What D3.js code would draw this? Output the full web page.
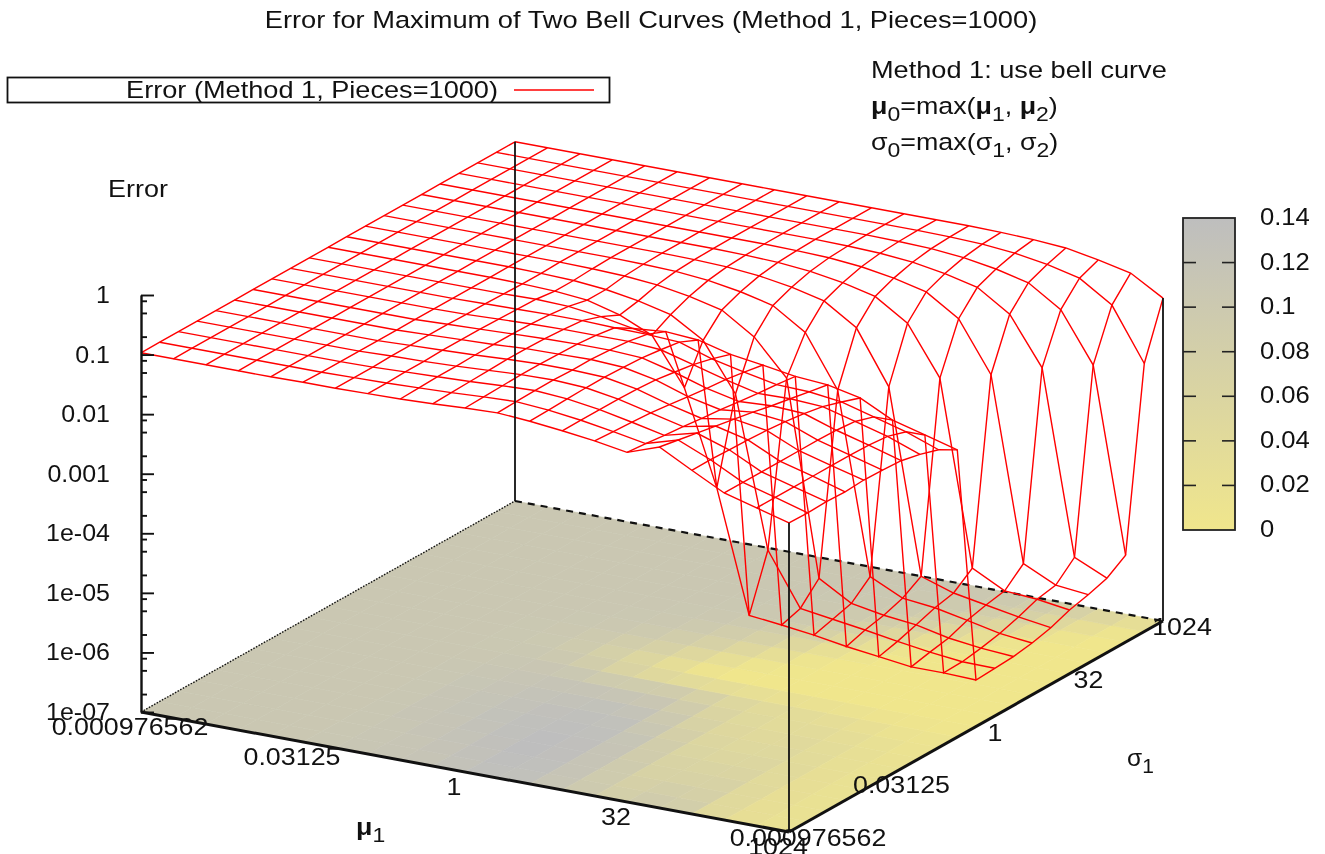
<!DOCTYPE html>
<html lang="en">
<head>
<meta charset="UTF-8">
<title>Error for Maximum of Two Bell Curves</title>
<script src="https://d3js.org/d3.v7.min.js"></script>
<style>
    body { margin: 0; background: #fff; }
    svg { display: block; filter: blur(0.45px); }
    text { font-family: "Liberation Sans", Arial, sans-serif; font-size: 24.5px; fill: #111; }
</style>
</head>
<body>
<svg id="chart" width="1325" height="854"></svg>
<script>
// mu1 and sigma1 both run 2^-10 .. 2^10 in steps of one power of two
const powers = [-10,-9,-8,-7,-6,-5,-4,-3,-2,-1,0,1,2,3,4,5,6,7,8,9,10];

const muTicks = [-10, -5, 0, 5, 10];
const muTickLabels = ["0.000976562", "0.03125", "1", "32", "1024"];
const sigmaTicks = [-10, -5, 0, 5, 10];
const sigmaTickLabels = ["0.000976562", "0.03125", "1", "32", "1024"];

const zTicks = [1, 0.1, 0.01, 0.001, 1e-4, 1e-5, 1e-6, 1e-7];
const zTickLabels = ["1", "0.1", "0.01", "0.001", "1e-04", "1e-05", "1e-06", "1e-07"];
const zMinorFactors = [0.8, 0.5, 0.2];

const cbTicks = [0, 0.02, 0.04, 0.06, 0.08, 0.1, 0.12, 0.14];
const cbTickLabels = ["0", "0.02", "0.04", "0.06", "0.08", "0.1", "0.12", "0.14"];

const logError = [
  [-0.97,-0.97,-0.97,-0.97,-0.97,-0.96,-0.96,-0.95,-0.94,-0.92,-0.89,-0.87,-0.91,-0.97,-1.04,-1.13,-0.94,-1.23,-1.51,-1.66,-1.81],
  [-0.97,-0.97,-0.97,-0.97,-0.97,-0.97,-0.96,-0.95,-0.93,-0.91,-0.88,-0.86,-0.90,-0.97,-1.06,-1.16,-1.00,-1.23,-1.51,-1.66,-1.82],
  [-0.97,-0.97,-0.97,-0.97,-0.97,-0.97,-0.96,-0.94,-0.92,-0.90,-0.87,-0.85,-0.89,-0.97,-1.08,-1.20,-1.06,-1.24,-1.51,-1.66,-1.81],
  [-0.97,-0.97,-0.97,-0.97,-0.97,-0.97,-0.95,-0.94,-0.92,-0.89,-0.86,-0.85,-0.88,-0.97,-1.10,-1.23,-1.12,-1.25,-1.51,-1.66,-1.82],
  [-0.97,-0.97,-0.97,-0.97,-0.97,-0.97,-0.95,-0.93,-0.91,-0.88,-0.86,-0.86,-0.88,-0.98,-1.14,-1.27,-1.18,-1.27,-1.51,-1.66,-1.80],
  [-0.97,-0.97,-0.97,-0.97,-0.97,-0.97,-0.95,-0.93,-0.91,-0.88,-0.87,-0.86,-0.89,-1.00,-1.18,-1.30,-1.24,-1.30,-1.51,-1.66,-1.81],
  [-0.97,-0.97,-0.97,-0.97,-0.97,-0.97,-0.95,-0.93,-0.91,-0.89,-0.88,-0.88,-0.91,-1.05,-1.22,-1.34,-1.31,-1.34,-1.52,-1.67,-1.83],
  [-0.97,-0.97,-0.97,-0.97,-0.97,-0.97,-0.96,-0.94,-0.92,-0.91,-0.91,-0.91,-0.95,-1.10,-1.25,-1.38,-1.37,-1.40,-1.55,-1.70,-1.90],
  [-0.97,-0.97,-0.97,-0.97,-0.97,-0.97,-0.96,-0.95,-0.94,-0.94,-0.96,-0.97,-1.00,-1.18,-1.30,-1.41,-1.43,-1.50,-1.65,-1.80,-2.00],
  [-0.97,-0.97,-0.97,-0.97,-0.97,-0.97,-0.97,-0.96,-0.98,-1.05,-1.15,-1.10,-1.14,-1.28,-1.36,-1.45,-1.49,-1.61,-1.88,-2.03,-2.18],
  [-0.97,-0.97,-0.97,-0.97,-0.97,-0.97,-0.98,-1.00,-1.05,-1.20,-1.44,-2.22,-3.80,-5.84,-5.90,-5.97,-6.06,-6.13,-6.20,-6.20,-6.22],
  [-0.97,-0.97,-0.97,-0.97,-0.97,-0.97,-0.98,-1.00,-1.05,-1.14,-1.27,-1.60,-2.40,-4.92,-5.80,-5.88,-5.96,-6.05,-6.13,-6.19,-6.20],
  [-0.97,-0.97,-0.97,-0.97,-0.97,-0.97,-0.97,-0.98,-1.00,-1.05,-1.14,-1.27,-1.62,-2.21,-5.47,-5.79,-5.89,-5.95,-6.07,-6.14,-6.18],
  [-0.97,-0.97,-0.97,-0.97,-0.97,-0.97,-0.97,-0.97,-0.98,-1.00,-1.05,-1.14,-1.27,-1.62,-2.49,-5.52,-5.78,-5.84,-5.95,-6.07,-6.13],
  [-0.97,-0.97,-0.97,-0.97,-0.97,-0.97,-0.97,-0.97,-0.97,-0.98,-1.00,-1.05,-1.14,-1.27,-1.62,-2.51,-5.59,-5.77,-5.87,-5.97,-6.05],
  [-0.97,-0.97,-0.97,-0.97,-0.97,-0.97,-0.97,-0.97,-0.97,-0.97,-0.98,-1.00,-1.05,-1.14,-1.27,-1.62,-2.44,-5.53,-5.81,-5.85,-5.93],
  [-0.97,-0.97,-0.97,-0.97,-0.97,-0.97,-0.97,-0.97,-0.97,-0.97,-0.97,-0.98,-1.00,-1.05,-1.14,-1.27,-1.62,-2.46,-5.53,-5.79,-5.85],
  [-0.97,-0.97,-0.97,-0.97,-0.97,-0.97,-0.97,-0.97,-0.97,-0.97,-0.97,-0.97,-0.98,-1.00,-1.05,-1.14,-1.27,-1.62,-2.42,-5.50,-5.75],
  [-0.97,-0.97,-0.97,-0.97,-0.97,-0.97,-0.97,-0.97,-0.97,-0.97,-0.97,-0.97,-0.97,-0.98,-1.00,-1.05,-1.14,-1.27,-1.62,-2.45,-5.54],
  [-0.97,-0.97,-0.97,-0.97,-0.97,-0.97,-0.97,-0.97,-0.97,-0.97,-0.97,-0.97,-0.97,-0.97,-0.98,-1.00,-1.05,-1.14,-1.27,-1.62,-2.50],
  [-0.97,-0.97,-0.97,-0.97,-0.97,-0.97,-0.97,-0.97,-0.97,-0.97,-0.97,-0.97,-0.97,-0.97,-0.97,-0.98,-1.00,-1.04,-1.14,-1.26,-1.58]
];

const svg = d3.select("#chart");

// screen positions of the base plane corners and the height of the z axis
const baseLeft = [141, 712];
const muSpan = [648, 120];
const sigmaSpan = [374, -211];
const zHeight = 417;

const muPos = d3.scaleLinear().domain([-10, 10]).range([0, 1]);
const sigmaPos = d3.scaleLinear().domain([-10, 10]).range([0, 1]);
const zPos = d3.scaleLog().domain([1e-7, 1]).range([0, zHeight]);
const colorScale = d3.scaleLinear().domain([0, 0.14]).range(["#f0e68c", "#bebebe"]);

function project(mu, sigma, z) {
    const a = muPos(mu), b = sigmaPos(sigma);
    return [
        baseLeft[0] + a * muSpan[0] + b * sigmaSpan[0],
        baseLeft[1] + a * muSpan[1] + b * sigmaSpan[1] - zPos(z)
    ];
}

const errorAt = (i, j) => Math.pow(10, logError[j][i]);
const zMin = 1e-7;
const corner = (mu, sigma) => project(mu, sigma, zMin);

// the source text is a stretched helvetica, so widen the glyphs to the same width
function stretch(sel, k) {
    sel.each(function() {
        d3.select(this)
            .attr("textLength", this.getComputedTextLength() * k)
            .attr("lengthAdjust", "spacingAndGlyphs");
    });
}

// coloured map on the base plane, one flat quad per grid cell
const cells = [];
d3.range(20).forEach(j => d3.range(20).forEach(i => cells.push({i, j})));
const cellColor = d => colorScale(d3.mean([
    errorAt(d.i, d.j), errorAt(d.i + 1, d.j), errorAt(d.i, d.j + 1), errorAt(d.i + 1, d.j + 1)
]));
svg.append("g").selectAll("path")
    .data(cells)
    .enter().append("path")
    .attr("d", d => "M" + [
        corner(powers[d.i], powers[d.j]),
        corner(powers[d.i + 1], powers[d.j]),
        corner(powers[d.i + 1], powers[d.j + 1]),
        corner(powers[d.i], powers[d.j + 1])
    ].join("L") + "Z")
    .attr("fill", cellColor)
    .attr("stroke", cellColor)
    .attr("stroke-width", 0.6);

// base plane border
const border = (a, b) => svg.append("line")
    .attr("x1", a[0]).attr("y1", a[1]).attr("x2", b[0]).attr("y2", b[1])
    .attr("stroke", "#111");
border(corner(-10, -10), corner(10, -10)).attr("stroke-width", 3);
border(corner(10, -10), corner(10, 10)).attr("stroke-width", 3);
border(corner(-10, 10), corner(10, 10)).attr("stroke-width", 2.2).attr("stroke-dasharray", "7 6");
border(corner(-10, -10), corner(-10, 10)).attr("stroke-width", 1.4).attr("stroke-dasharray", "1.5 1.5");

// wireframe
const line = d3.line();
const mesh = svg.append("g").attr("fill", "none").attr("stroke", "#ff0000").attr("stroke-width", 1.4);
logError.forEach((row, j) => {
    mesh.append("path").attr("d", line(row.map((v, i) => project(powers[i], powers[j], Math.pow(10, v)))));
});
powers.forEach((p, i) => {
    mesh.append("path").attr("d", line(logError.map((row, j) => project(p, powers[j], Math.pow(10, row[i])))));
});

// vertical corner lines
border(corner(-10, 10), project(-10, 10, Math.pow(10, logError[20][0]))).attr("stroke-width", 1.8);
border(corner(10, -10), project(10, -10, Math.pow(10, logError[0][20]))).attr("stroke-width", 1.8);
border(corner(10, 10), project(10, 10, Math.pow(10, logError[20][20]))).attr("stroke-width", 1.8);

// z axis, left edge
const zAxisScale = d3.scaleLog().domain([1e-7, 1]).range([baseLeft[1], baseLeft[1] - zHeight]);
const zMinor = [];
zTicks.slice(0, -1).forEach(t => zMinorFactors.forEach(f => zMinor.push(t * f)));
const zAxis = svg.append("g").attr("transform", `translate(${baseLeft[0]},0)`);
zAxis.append("g").call(d3.axisRight(zAxisScale).tickValues(zMinor).tickSize(6).tickFormat("").tickSizeOuter(0))
    .selectAll("path,line").attr("stroke", "#111").attr("stroke-width", 1.9);
zAxis.append("g").call(d3.axisRight(zAxisScale).tickValues(zTicks).tickSize(13).tickFormat("").tickSizeOuter(0))
    .selectAll("path,line").attr("stroke", "#111").attr("stroke-width", 1.9);
svg.append("g").selectAll("text")
    .data(zTicks)
    .enter().append("text")
    .attr("x", 110)
    .attr("y", d => zAxisScale(d) + 8)
    .attr("text-anchor", "end")
    .text((d, i) => zTickLabels[i])
    .call(stretch, 1.02);

// mu1 and sigma1 tick labels
const muLabels = svg.append("g").attr("text-anchor", "middle");
muTicks.forEach((t, i) => {
    const p = corner(t, -10);
    muLabels.append("text").attr("x", p[0] - 11).attr("y", p[1] + 23).text(muTickLabels[i]);
});
muLabels.selectAll("text").call(stretch, 1.095);
const sigmaLabels = svg.append("g").attr("text-anchor", "middle");
sigmaTicks.forEach((t, i) => {
    const p = corner(10, t);
    sigmaLabels.append("text").attr("x", p[0] + 19).attr("y", p[1] + 14).text(sigmaTickLabels[i]);
});
sigmaLabels.selectAll("text").call(stretch, 1.095);

// colour box
const cbScale = d3.scaleLinear().domain([0, 0.14]).range([530, 218]);
const defs = svg.append("defs");
const grad = defs.append("linearGradient").attr("id", "cbGrad")
    .attr("x1", 0).attr("y1", 1).attr("x2", 0).attr("y2", 0);
grad.append("stop").attr("offset", "0%").attr("stop-color", colorScale(0));
grad.append("stop").attr("offset", "100%").attr("stop-color", colorScale(0.14));
svg.append("rect").attr("x", 1183).attr("y", cbScale(0.14))
    .attr("width", 52).attr("height", cbScale(0) - cbScale(0.14))
    .attr("fill", "url(#cbGrad)").attr("stroke", "#222").attr("stroke-width", 1.8);
const cbInner = cbTicks.slice(1, -1);
[[1183, 13], [1235, -13]].forEach(s => {
    svg.append("g").selectAll("line").data(cbInner).enter().append("line")
        .attr("x1", s[0]).attr("x2", s[0] + s[1])
        .attr("y1", d => cbScale(d)).attr("y2", d => cbScale(d))
        .attr("stroke", "#222").attr("stroke-width", 1.6);
});
svg.append("g").selectAll("text")
    .data(cbTicks)
    .enter().append("text")
    .attr("x", 1260)
    .attr("y", d => cbScale(d) + 7)
    .text((d, i) => cbTickLabels[i])
    .call(stretch, 1.045);

// title, legend, key text
svg.append("text").attr("x", 651).attr("y", 28).attr("text-anchor", "middle")
    .text("Error for Maximum of Two Bell Curves (Method 1, Pieces=1000)")
    .call(stretch, 1.112);

svg.append("rect").attr("x", 7.5).attr("y", 77.5).attr("width", 602).attr("height", 25)
    .attr("fill", "#fff").attr("stroke", "#111").attr("stroke-width", 1.8);
svg.append("text").attr("x", 498).attr("y", 98).attr("text-anchor", "end")
    .text("Error (Method 1, Pieces=1000)")
    .call(stretch, 1.108);
svg.append("line").attr("x1", 514).attr("x2", 594).attr("y1", 90).attr("y2", 90)
    .attr("stroke", "#ff0000").attr("stroke-width", 1.6);

svg.append("text").attr("x", 108).attr("y", 197).text("Error").call(stretch, 1.1);
svg.append("text").attr("x", 871).attr("y", 78).text("Method 1: use bell curve").call(stretch, 1.108);

function subText(x, y, parts) {
    const t = svg.append("text").attr("x", x).attr("y", y);
    parts.forEach(p => {
        const s = t.append("tspan").text(p.s);
        if (p.b) s.attr("font-weight", "bold");
        if (p.sub) s.attr("dy", 7).attr("font-size", 21);
        if (p.up) s.attr("dy", -7);
    });
    return t;
}
subText(871, 114, [{s:"μ",b:1},{s:"0",sub:1},{s:"=max(",up:1},{s:"μ",b:1},{s:"1",sub:1},{s:", ",up:1},{s:"μ",b:1},{s:"2",sub:1},{s:")",up:1}]).call(stretch, 1.095);
subText(871, 150, [{s:"σ"},{s:"0",sub:1},{s:"=max(",up:1},{s:"σ"},{s:"1",sub:1},{s:", ",up:1},{s:"σ"},{s:"2",sub:1},{s:")",up:1}]).call(stretch, 1.095);
subText(356, 835, [{s:"μ",b:1},{s:"1",sub:1}]).call(stretch, 1.095);
subText(1127, 766, [{s:"σ"},{s:"1",sub:1}]);
</script>
</body>
</html>
